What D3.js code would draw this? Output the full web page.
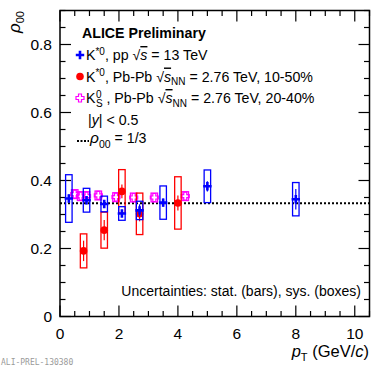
<!DOCTYPE html>
<html><head><meta charset="utf-8">
<script src="https://cdn.jsdelivr.net/npm/d3@7"></script>
<style>
body{margin:0;background:#fff;}
svg text{font-family:"Liberation Sans",Arial,Helvetica,sans-serif;}
</style></head>
<body><svg id="c" width="382" height="367"></svg>
<script>
// ---- data ----
const ppPt    = [0.3, 0.9, 1.5, 2.1, 2.7, 3.5, 5.0, 8.0];
const ppVal   = [0.347, 0.342, 0.331, 0.303, 0.312, 0.335, 0.383, 0.345];
const ppStat  = [0.012, 0.012, 0.010, 0.010, 0.018, 0.012, 0.015, 0.030];
const ppSys   = [0.070, 0.035, 0.023, 0.020, 0.027, 0.049, 0.048, 0.049];

const pbPt    = [0.8, 1.5, 2.1, 2.7, 4.0];
const pbVal   = [0.193, 0.254, 0.368, 0.302, 0.334];
const pbStat  = [0.030, 0.030, 0.020, 0.022, 0.022];
const pbSys   = [0.050, 0.053, 0.064, 0.061, 0.077];

const k0Pt    = [0.5, 0.7, 0.9, 1.3, 1.9, 2.5, 3.2, 4.25];
const k0Val   = [0.360, 0.354, 0.354, 0.356, 0.351, 0.350, 0.350, 0.354];
const k0Stat  = [0.008, 0.008, 0.008, 0.008, 0.008, 0.008, 0.008, 0.008];
const k0Sys   = [0.013, 0.013, 0.013, 0.013, 0.013, 0.013, 0.013, 0.013];

const xTicks = [0, 2, 4, 6, 8, 10];
const yTicks = [0, 0.2, 0.4, 0.6, 0.8];
const rhoRef = 1/3;
const boxHalfWidth = 0.11;

// ---- layout ----
const svg = d3.select("#c");
const L = 60, R = 369.5, T = 10.5, B = 316.5;
const x = d3.scaleLinear().domain([0, 10.5]).range([L, R]);
const y = d3.scaleLinear().domain([0, 0.9]).range([B, T]);

// ticks (inward, on all four sides)
const g = svg.append("g");
const xMinor = d3.range(0, 10.5001, 0.5);
const yMinor = d3.range(0, 0.9001, 0.05);
xMinor.forEach(v => {
  const major = Math.abs(v/2 - Math.round(v/2)) < 1e-6;
  const len = major ? 11 : 5.5;
  g.append("line").attr("x1", x(v)).attr("x2", x(v)).attr("y1", B).attr("y2", B - len).attr("stroke", "#000").attr("stroke-width", 1.2);
  g.append("line").attr("x1", x(v)).attr("x2", x(v)).attr("y1", T).attr("y2", T + len).attr("stroke", "#000").attr("stroke-width", 1.2);
});
yMinor.forEach(v => {
  const major = Math.abs(v/0.2 - Math.round(v/0.2)) < 1e-6;
  const len = major ? 11 : 5.5;
  g.append("line").attr("y1", y(v)).attr("y2", y(v)).attr("x1", L).attr("x2", L + len).attr("stroke", "#000").attr("stroke-width", 1.2);
  g.append("line").attr("y1", y(v)).attr("y2", y(v)).attr("x1", R).attr("x2", R - len).attr("stroke", "#000").attr("stroke-width", 1.2);
});
svg.append("rect").attr("x", L).attr("y", T).attr("width", R - L).attr("height", B - T)
  .attr("fill", "none").attr("stroke", "#000").attr("stroke-width", 1.5);

// tick labels
xTicks.forEach(v => {
  svg.append("text").attr("x", x(v)).attr("y", 339).attr("text-anchor", "middle")
    .attr("font-size", 15.5).text(v);
});
yTicks.forEach(v => {
  svg.append("text").attr("x", 52).attr("y", y(v) + 5.5).attr("text-anchor", "end")
    .attr("font-size", 15.5).text(v === 0 ? "0" : v.toFixed(1));
});

// axis titles
const xt = svg.append("text").attr("x", 369).attr("y", 357).attr("text-anchor", "end").attr("font-size", 16.5);
xt.append("tspan").attr("font-style", "italic").text("p");
xt.append("tspan").attr("font-size", 11).attr("dy", 4).text("T");
xt.append("tspan").attr("dy", -4).text(" (GeV/");
xt.append("tspan").attr("font-style", "italic").text("c");
xt.append("tspan").text(")");

const yt = svg.append("text").attr("transform", "translate(20,11) rotate(-90)").attr("text-anchor", "end").attr("font-size", 17);
yt.append("tspan").attr("font-style", "italic").text("ρ");
yt.append("tspan").attr("font-size", 11).attr("dy", 4).text("00");

// reference dotted line
svg.append("line").attr("x1", L).attr("x2", R).attr("y1", y(rhoRef)).attr("y2", y(rhoRef))
  .attr("stroke", "#000").attr("stroke-width", 2).attr("stroke-dasharray", "2,2");

// data drawing helpers
function drawSeries(pt, val, stat, sys, color, marker) {
  const s = svg.append("g");
  pt.forEach((p, i) => {
    s.append("rect").attr("x", x(p - boxHalfWidth)).attr("y", y(val[i] + sys[i]))
      .attr("width", x(p + boxHalfWidth) - x(p - boxHalfWidth))
      .attr("height", y(val[i] - sys[i]) - y(val[i] + sys[i]))
      .attr("fill", "none").attr("stroke", color).attr("stroke-width", 1.3);
    s.append("line").attr("x1", x(p)).attr("x2", x(p)).attr("y1", y(val[i] + stat[i])).attr("y2", y(val[i] - stat[i]))
      .attr("stroke", marker === "open" ? "#fff" : color).attr("stroke-width", 1.2);
    drawMarker(s, x(p), y(val[i]), color, marker);
  });
}
function crossPath(cx, cy, a, w) {
  return `M${cx-w},${cy-a}H${cx+w}V${cy-w}H${cx+a}V${cy+w}H${cx+w}V${cy+a}H${cx-w}V${cy+w}H${cx-a}V${cy-w}H${cx-w}Z`;
}
function drawMarker(s, cx, cy, color, marker) {
  if (marker === "cross") {
    s.append("path").attr("d", crossPath(cx, cy, 4.2, 1.3)).attr("fill", color);
  } else if (marker === "circle") {
    s.append("circle").attr("cx", cx).attr("cy", cy).attr("r", 3.8).attr("fill", color);
  } else {
    s.append("path").attr("d", crossPath(cx, cy, 4, 1.5)).attr("fill", "none").attr("stroke", color).attr("stroke-width", 1.2);
  }
}

drawSeries(k0Pt, k0Val, k0Stat, k0Sys, "#ff00ff", "open");
drawSeries(pbPt, pbVal, pbStat, pbSys, "#ff0000", "circle");
drawSeries(ppPt, ppVal, ppStat, ppSys, "#0000ff", "cross");

// legend
const fs = 14.2, sfs = 10;
svg.append("text").attr("x", 82).attr("y", 38).attr("font-size", 14.2).attr("font-weight", "bold").text("ALICE Preliminary");
const rows = [55, 76.5, 98, 119.5, 141];
drawMarker(svg, 80, rows[0], "#0000ff", "cross");
drawMarker(svg, 80, rows[1], "#ff0000", "circle");
drawMarker(svg, 80, rows[2], "#ff00ff", "open");

function sqrtPart(t, sub) {
  t.append("tspan").text("√");
  t.append("tspan").attr("font-style", "italic").attr("text-decoration", "overline").text("s");
  if (sub) {
    t.append("tspan").attr("font-size", sfs).attr("dy", 3.5).text("NN");
    t.append("tspan").attr("dy", -3.5).text(" = 2.76 TeV, " + sub);
  } else {
    t.append("tspan").text(" = 13 TeV");
  }
}
const X0 = 86;
let t = svg.append("text").attr("x", X0).attr("y", rows[0] + 5).attr("font-size", fs);
t.append("tspan").text("K");
t.append("tspan").attr("font-size", sfs).attr("dy", -5.5).text("*0");
t.append("tspan").attr("dy", 5.5).text(", pp ");
sqrtPart(t, null);

t = svg.append("text").attr("x", X0).attr("y", rows[1] + 5).attr("font-size", fs);
t.append("tspan").text("K");
t.append("tspan").attr("font-size", sfs).attr("dy", -5.5).text("*0");
t.append("tspan").attr("dy", 5.5).text(", Pb-Pb ");
sqrtPart(t, "20-40%".replace("20-40", "10-50"));

// K0S row: stacked super/subscript
const tmp = svg.append("text").attr("font-size", fs).text("K");
const kW = tmp.node().getComputedTextLength();
tmp.remove();
t = svg.append("text").attr("x", X0).attr("y", rows[2] + 5).attr("font-size", fs);
t.append("tspan").text("K");
t.append("tspan").attr("x", X0 + kW + 0.5).attr("font-size", sfs).attr("dy", -5.5).text("0");
t.append("tspan").attr("x", X0 + kW + 0.5).attr("font-size", sfs).attr("dy", 9).text("S");
t.append("tspan").attr("x", X0 + kW + 7).attr("dy", -3.5).text(" , Pb-Pb ");
sqrtPart(t, "20-40%");

t = svg.append("text").attr("x", 88).attr("y", rows[3] + 5).attr("font-size", fs);
t.append("tspan").text("|");
t.append("tspan").attr("font-style", "italic").text("y");
t.append("tspan").text("| < 0.5");

svg.append("line").attr("x1", 77).attr("x2", 89).attr("y1", rows[4]).attr("y2", rows[4])
  .attr("stroke", "#000").attr("stroke-width", 2).attr("stroke-dasharray", "2,1.5");
t = svg.append("text").attr("x", 90).attr("y", rows[4] + 2).attr("font-size", 15.5);
t.append("tspan").attr("font-style", "italic").text("ρ");
t.append("tspan").attr("font-size", 10.5).attr("dy", 5).text("00");
t.append("tspan").attr("font-size", fs).attr("dy", -5).text(" = 1/3");

svg.append("text").attr("x", 361).attr("y", 296).attr("text-anchor", "end").attr("font-size", 14)
  .text("Uncertainties: stat. (bars), sys. (boxes)");

svg.append("text").attr("x", 1).attr("y", 365).attr("font-size", 8)
  .style("font-family", "'DejaVu Sans Mono','Liberation Mono',monospace").attr("fill", "#9a9a9a")
  .text("ALI-PREL-130380");
</script></body></html>
